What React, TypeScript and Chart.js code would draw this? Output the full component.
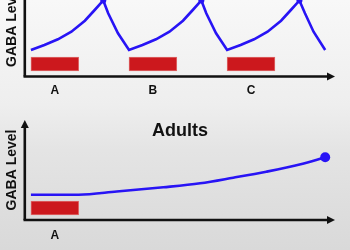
import React, { useEffect, useRef } from 'react';
import { Chart, registerables } from 'chart.js';

Chart.register(...registerables);

// ---------- data ----------
const childTickLabels = ['A', 'B', 'C'];
const childBars: [number, number][] = [[0, 3.9], [8, 11.9], [16, 19.9]];
const childBarLevel = 1.25;
const childX = [0, 1.1, 2.2, 3.3, 4.4, 5.2, 5.9, 6.3, 7.1, 8, 9.1, 10.2, 11.3, 12.4, 13.2, 13.9, 14.3, 15.1, 16, 17.1, 18.2, 19.3, 20.4, 21.2, 21.9, 22.35, 23.05, 24];
const childY = [2.65, 3.15, 3.72, 4.48, 5.58, 6.65, 7.6, 6.32, 4.32, 2.65, 3.15, 3.72, 4.48, 5.58, 6.65, 7.6, 6.32, 4.32, 2.65, 3.15, 3.72, 4.48, 5.58, 6.65, 7.6, 6.32, 4.48, 2.65];

const adultTitle = 'Adults';
const adultTickLabels = ['A'];
const adultBars: [number, number][] = [[0, 3.9]];
const adultBarLevel = 1.2;
const adultX = [0, 3.9, 7, 10.8, 13.8, 16.5, 19.2, 22, 24];
const adultY = [2.53, 2.53, 2.85, 3.27, 3.67, 4.23, 4.83, 5.57, 6.27];

const yTitle = 'GABA Level';

// ---------- styles ----------
const FONT = "'Liberation Sans', Arial, Helvetica, sans-serif";
const INK = '#111111';
const BLUE = '#2814f5';
const RED = '#cc181d';
const RED_EDGE = '#de6a6a';

const arrowAxes = {
  id: 'arrowAxes',
  afterDraw(chart: any, _args: any, opts: any) {
    const { ctx, chartArea } = chart;
    const { left, right, top, bottom } = chartArea;
    const w = 2.6;
    const head = 8;
    const half = 4;
    ctx.save();
    ctx.strokeStyle = INK;
    ctx.fillStyle = INK;
    ctx.lineWidth = w;
    // x axis
    ctx.beginPath();
    ctx.moveTo(left - w / 2, bottom);
    ctx.lineTo(right - head + 1, bottom);
    ctx.stroke();
    ctx.beginPath();
    ctx.moveTo(right, bottom);
    ctx.lineTo(right - head, bottom - half);
    ctx.lineTo(right - head, bottom + half);
    ctx.closePath();
    ctx.fill();
    // y axis
    ctx.beginPath();
    ctx.moveTo(left, bottom);
    ctx.lineTo(left, opts.yArrow ? top + head - 1 : top);
    ctx.stroke();
    if (opts.yArrow) {
      ctx.beginPath();
      ctx.moveTo(left, top);
      ctx.lineTo(left - half, top + head);
      ctx.lineTo(left + half, top + head);
      ctx.closePath();
      ctx.fill();
    }
    ctx.restore();
  },
};

type PanelSpec = {
  xs: number[];
  ys: number[];
  bars: [number, number][];
  barLevel: number;
  labels: string[];
  smooth: boolean;
  pointRadius: number[];
  padding: any;
  tickPad: number;
  title?: string;
  yArrow: boolean;
};

function buildConfig(p: PanelSpec): any {
  const centers = p.bars.map((b) => (b[0] + b[1]) / 2);
  return {
    type: 'line',
    data: {
      datasets: [
        {
          type: 'line',
          data: p.xs.map((x, i) => ({ x, y: p.ys[i] })),
          borderColor: BLUE,
          borderWidth: 2.6,
          tension: p.smooth ? 0.4 : 0,
          cubicInterpolationMode: p.smooth ? 'monotone' : 'default',
          pointRadius: p.pointRadius,
          pointBackgroundColor: BLUE,
          pointBorderWidth: 0,
          pointHoverRadius: 0,
          fill: false,
        },
        {
          type: 'bar',
          indexAxis: 'y',
          data: p.bars.map((b) => ({ x: [b[0], b[1]], y: p.barLevel })),
          backgroundColor: RED,
          borderColor: RED_EDGE,
          borderWidth: 1,
          borderSkipped: false,
          barThickness: 14,
          grouped: false,
        },
      ],
    },
    options: {
      animation: false,
      responsive: false,
      events: [],
      layout: { padding: p.padding },
      plugins: {
        legend: { display: false },
        tooltip: { enabled: false },
        title: p.title
          ? {
              display: true,
              fullSize: false,
              text: p.title,
              color: INK,
              font: { family: FONT, size: 18, weight: 'bold' },
              padding: { top: 10.2, bottom: -21.8 },
            }
          : { display: false },
        arrowAxes: { yArrow: p.yArrow },
      },
      scales: {
        x: {
          type: 'linear',
          min: -0.5,
          max: 24.8,
          offset: false,
          grid: { display: false, drawTicks: false },
          border: { display: false },
          afterBuildTicks: (s: any) => {
            s.ticks = centers.map((v) => ({ value: v }));
          },
          ticks: {
            autoSkip: false,
            maxRotation: 0,
            padding: p.tickPad,
            color: INK,
            font: { family: FONT, size: 12, weight: 'bold' },
            callback: (_v: any, i: number) => p.labels[i],
          },
        },
        y: {
          type: 'linear',
          min: 0,
          max: 10,
          offset: false,
          grid: { display: false, drawTicks: false },
          border: { display: false },
          ticks: { display: false },
          title: {
            display: true,
            text: yTitle,
            color: INK,
            font: { family: FONT, size: 14, weight: 'bold' },
            padding: { top: 4, bottom: 4 },
          },
        },
      },
    },
    plugins: [arrowAxes],
  };
}

const peakRadii = (ys: number[]) =>
  ys.map((y, i) => (i > 0 && i < ys.length - 1 && y > ys[i - 1] && y > ys[i + 1] ? 3 : 0));

export default function App() {
  const topRef = useRef<HTMLCanvasElement>(null);
  const botRef = useRef<HTMLCanvasElement>(null);

  useEffect(() => {
    const c1 = new Chart(
      topRef.current as HTMLCanvasElement,
      buildConfig({
        xs: childX,
        ys: childY,
        bars: childBars,
        barLevel: childBarLevel,
        labels: childTickLabels,
        smooth: false,
        pointRadius: peakRadii(childY),
        padding: { top: 6.5, right: 15, bottom: 5.1, left: 0 },
        tickPad: 7,
        yArrow: false,
      })
    );
    const c2 = new Chart(
      botRef.current as HTMLCanvasElement,
      buildConfig({
        xs: adultX,
        ys: adultY,
        bars: adultBars,
        barLevel: adultBarLevel,
        labels: adultTickLabels,
        smooth: true,
        pointRadius: adultY.map((_, i) => (i === adultY.length - 1 ? 5 : 0)),
        padding: { top: 0, right: 15, bottom: 4.6, left: 0 },
        tickPad: 8,
        title: adultTitle,
        yArrow: true,
      })
    );
    return () => {
      c1.destroy();
      c2.destroy();
    };
  }, []);

  return (
    <div
      style={{
        position: 'fixed',
        left: 0,
        top: 0,
        width: 350,
        height: 250,
        overflow: 'hidden',
        background: 'linear-gradient(180deg, #f8f8f8 0%, #eeeeee 42%, #e4e4e4 60%, #d9d9d9 100%)',
      }}
    >
      <canvas ref={topRef} width={350} height={140} style={{ position: 'absolute', left: 0, top: -30 }} />
      <canvas ref={botRef} width={350} height={145} style={{ position: 'absolute', left: 0, top: 110 }} />
    </div>
  );
}
